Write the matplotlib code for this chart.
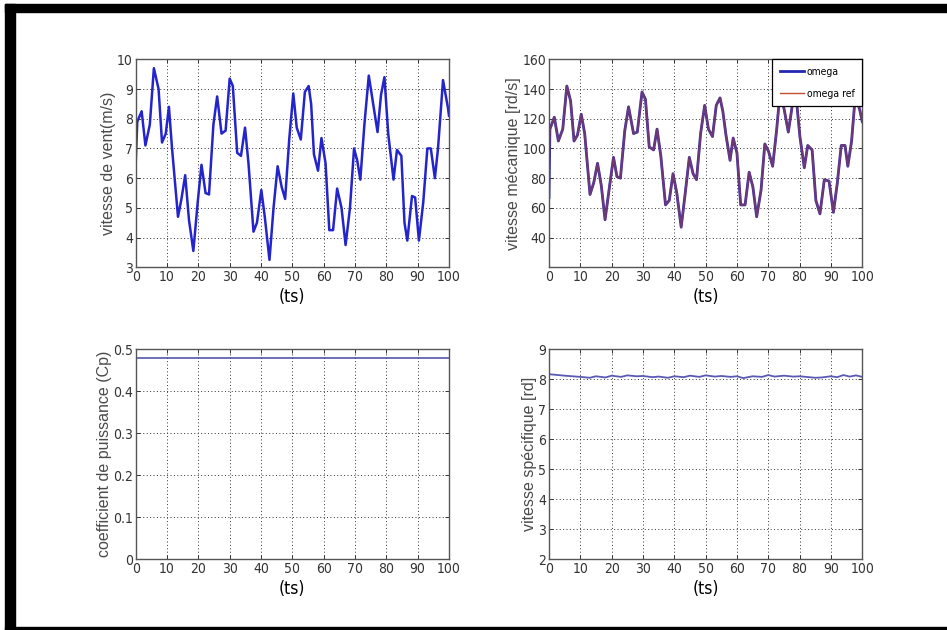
import matplotlib
matplotlib.use("Agg")
import matplotlib.pyplot as plt
from matplotlib.patches import Rectangle

# vitesse du vent (m/s)
vent_t = [0, 0.5, 1.9, 3.1, 4.5, 5.8, 7.3, 8.4, 9.6, 10.6, 11.6, 13.5, 14.6, 15.8, 17.0,
          18.4, 19.8, 21.0, 22.3, 23.4, 24.8, 26.0, 27.4, 28.7, 30.0, 31.0, 32.4, 33.6,
          34.9, 36.0, 37.6, 38.7, 40.1, 41.2, 42.7, 44.0, 45.3, 46.6, 47.7, 49.0, 50.3,
          51.4, 52.7, 54.0, 55.2, 56.0, 56.9, 58.2, 59.3, 60.6, 61.8, 63.0, 64.3, 65.7,
          67.0, 68.4, 69.7, 70.7, 71.7, 73.0, 74.4, 75.8, 77.2, 78.3, 79.4, 80.6, 82.3,
          83.4, 84.8, 85.8, 86.7, 88.2, 89.2, 90.4, 91.8, 93.1, 94.2, 95.5, 96.5, 98.1,
          99.7, 100]
vent = [6.5, 7.9, 8.25, 7.1, 7.8, 9.7, 9.0, 7.2, 7.5, 8.4, 7.0, 4.7, 5.3, 6.1, 4.6,
        3.55, 5.2, 6.45, 5.5, 5.45, 7.8, 8.75, 7.5, 7.6, 9.35, 9.1, 6.85, 6.75, 7.7,
        6.5, 4.2, 4.5, 5.6, 4.7, 3.25, 5.0, 6.4, 5.7, 5.3, 7.3, 8.85, 7.7, 7.3, 8.9,
        9.1, 8.5, 6.8, 6.25, 7.35, 6.5, 4.25, 4.25, 5.65, 5.0, 3.75, 5.0, 7.0, 6.6,
        5.95, 7.8, 9.45, 8.5, 7.55, 8.8, 9.4, 7.5, 5.95, 6.95, 6.75, 4.5, 3.9, 5.4,
        5.35, 3.9, 5.2, 7.0, 7.0, 6.0, 7.0, 9.3, 8.35, 8.1]

# vitesse mecanique (rd/s)
omega_t = [0, 0.3, 1.7, 3.0, 4.4, 5.7, 6.9, 8.0, 9.1, 10.3, 11.4, 13.1, 14.3, 15.5,
           16.7, 17.9, 19.3, 20.6, 21.7, 22.8, 24.2, 25.4, 27.0, 28.2, 29.7, 30.8,
           32.0, 33.4, 34.5, 35.7, 37.2, 38.4, 39.6, 40.8, 42.2, 43.5, 44.8, 46.0,
           47.1, 48.4, 49.7, 50.9, 52.2, 53.4, 54.6, 55.5, 56.5, 57.8, 58.8, 60.0,
           61.2, 62.6, 63.9, 65.1, 66.3, 67.7, 68.9, 70.1, 71.4, 72.7, 73.8, 75.1,
           76.4, 77.6, 78.8, 80.1, 81.5, 82.6, 84.0, 85.2, 86.5, 87.9, 89.4, 90.8,
           92.0, 93.3, 94.5, 95.4, 96.6, 97.8, 99.2, 100]
omega = [67, 113, 121, 105, 113, 142, 132, 105, 109, 123, 110, 69, 77, 90, 75, 52,
         74, 94, 81, 80, 112, 128, 110, 111, 138, 133, 101, 99, 113, 95, 62, 65, 83,
         70, 47, 70, 94, 83, 79, 110, 129, 113, 108, 129, 134, 125, 109, 92, 107, 97,
         62, 62, 84, 74, 54, 72, 103, 98, 88, 113, 139, 126, 111, 128, 137, 108, 87,
         102, 99, 65, 56, 79, 78, 57, 76, 102, 102, 88, 105, 136, 126, 118]
omega_ref = [95] + omega[1:]

# coefficient de puissance
cp_t = [0, 100]
cp = [0.48, 0.48]

# vitesse specifique
lam_t = [0, 5, 10, 13, 15, 18, 20, 23, 25, 28, 30, 33, 35, 38, 40, 43, 45, 48, 50, 53,
         55, 58, 60, 62, 65, 68, 70, 72, 75, 78, 80, 83, 85, 87, 90, 92, 94, 96, 98, 100]
lam = [8.17, 8.12, 8.08, 8.05, 8.10, 8.06, 8.12, 8.08, 8.13, 8.10, 8.11, 8.07, 8.09,
       8.05, 8.10, 8.07, 8.12, 8.08, 8.13, 8.09, 8.11, 8.08, 8.10, 8.04, 8.10, 8.08,
       8.14, 8.09, 8.12, 8.09, 8.10, 8.07, 8.05, 8.06, 8.10, 8.07, 8.14, 8.09, 8.13, 8.08]

xticks = list(range(0, 101, 10))

tick_font = dict(family="DejaVu Sans", stretch="condensed")
label_font = ["Liberation Sans", "DejaVu Sans"]

fig = plt.figure(figsize=(9.47, 6.30), dpi=100)
fig.patch.set_facecolor("white")

w, h_top, h_bot = 0.3308, 0.3302, 0.3334
ax1 = fig.add_axes([0.1433, 0.5757, w, h_top])
ax2 = fig.add_axes([0.5797, 0.5757, w, h_top])
ax3 = fig.add_axes([0.1433, 0.1122, w, h_bot])
ax4 = fig.add_axes([0.5797, 0.1122, w, h_bot])

ax1.plot(vent_t, vent, color="#2424cc", linewidth=1.8)
ax1.set_ylim(3, 10)
ax1.set_yticks(range(3, 11))
ax1.set_ylabel("vitesse de vent(m/s)")

ax2.plot(omega_t, omega, color="#2626b4", linewidth=2.0, label="omega")
ax2.plot(omega_t, omega_ref, color="#c05030", linewidth=1.6, alpha=0.45, label="omega ref")
ax2.set_ylim(20, 160)
ax2.set_yticks(range(40, 161, 20))
ax2.set_ylabel("vitesse mécanique [rd/s]")
leg = ax2.legend(loc="upper right", fancybox=False, framealpha=1, edgecolor="black",
                 borderaxespad=0, handlelength=2.3, handletextpad=0.3, borderpad=0.75,
                 labelspacing=1.1, prop=dict(size=7.5, **tick_font))
leg.get_frame().set_linewidth(0.9)
leg.get_lines()[1].set_alpha(1)
leg.get_lines()[1].set_linewidth(1.0)

ax3.plot(cp_t, cp, color="#4848a8", linewidth=1.1)
ax3.set_ylim(0, 0.5)
ax3.set_yticks([0, 0.1, 0.2, 0.3, 0.4, 0.5])
ax3.set_yticklabels(["0", "0.1", "0.2", "0.3", "0.4", "0.5"])
ax3.set_ylabel("coefficient de puissance (Cp)")

ax4.plot(lam_t, lam, color="#5a5ab4", linewidth=1.3)
ax4.set_ylim(2, 9)
ax4.set_yticks(range(2, 10))
ax4.set_ylabel("vitesse spécifique [rd]")

for ax in (ax1, ax2, ax3, ax4):
    ax.set_xlim(0, 100)
    ax.set_xticks(xticks)
    ax.set_xlabel("(ts)", fontsize=12.5, labelpad=3, **tick_font)
    ax.yaxis.label.set_family(label_font)
    ax.yaxis.label.set_fontsize(11.5)
    ax.yaxis.label.set_color("#4a4a4a")
    ax.yaxis.labelpad = 1
    ax.grid(True, linestyle=(0, (1, 2.5)), color="#333333", linewidth=0.7)
    ax.tick_params(direction="in", length=3, width=0.7, top=True, right=True,
                   labelsize=10, colors="#333333", pad=2)
    for lab in ax.get_xticklabels() + ax.get_yticklabels():
        lab.set_family(tick_font["family"])
        lab.set_stretch(tick_font["stretch"])
    for sp in ax.spines.values():
        sp.set_color("#555555")
        sp.set_linewidth(1.0)

# cadre noir de la capture
fig.patches.append(Rectangle((0.0053, 0.981), 0.9947, 0.0127, transform=fig.transFigure,
                             color="black", zorder=10))
fig.patches.append(Rectangle((0.0053, 0.0), 0.0105, 0.9937, transform=fig.transFigure,
                             color="black", zorder=10))
fig.patches.append(Rectangle((0.0053, 0.0), 0.9947, 0.0048, transform=fig.transFigure,
                             color="black", zorder=10))

fig.savefig("out.png", dpi=100)
